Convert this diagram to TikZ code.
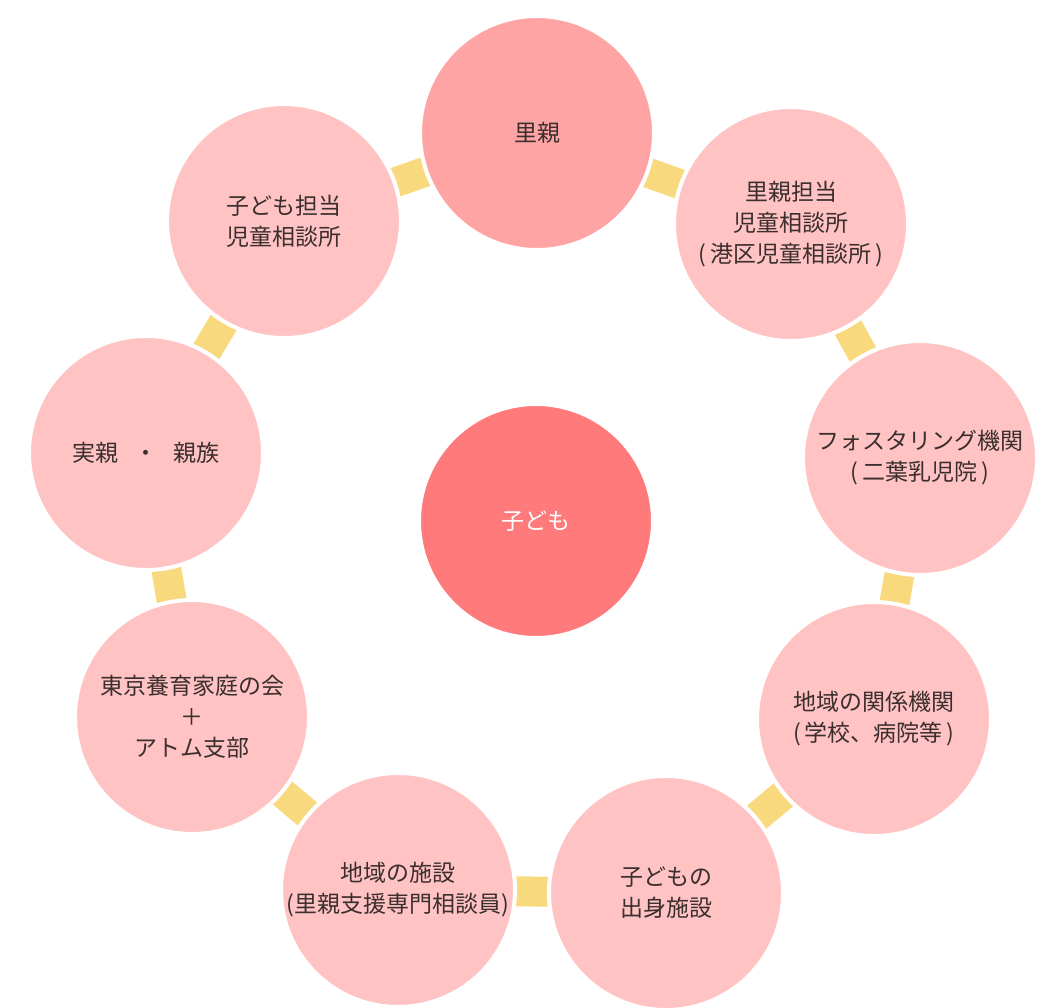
\documentclass[tikz,border=0pt]{standalone}
\usepackage{fontspec}
\setmainfont{Noto Sans CJK JP}
\usetikzlibrary{backgrounds}
\definecolor{ringpink}{HTML}{FFC3C3}
\definecolor{toppink}{HTML}{FFA4A4}
\definecolor{corepink}{HTML}{FF7B7B}
\definecolor{linkyellow}{HTML}{F9D97E}
\definecolor{ink}{HTML}{3A2E2E}
\begin{document}
\begin{tikzpicture}[x=1pt,y=-1pt,
  bub/.style={circle, fill=ringpink, draw=white, line width=4pt,
    minimum size=234pt, inner sep=0pt, align=center,
    font=\fontsize{23}{31}\selectfont, text=ink},
  linkband/.style={draw=linkyellow, line width=30pt}]
\useasboundingbox (0,0) rectangle (1046,1007);
\node[bub, fill=toppink] (satooya) at (537,133) {里親};
\node[bub] (satotanto) at (791,224) {里親担当\\児童相談所\\(\,港区児童相談所\,)};
\node[bub] (foster) at (920,458) {フォスタリング機関\\(\,二葉乳児院\,)};
\node[bub] (chiiki) at (874,719) {地域の関係機関\\(\,学校、病院等\,)};
\node[bub] (shusshin) at (666,893) {子どもの\\出身施設};
\node[bub] (shisetsu) at (398,890) {地域の施設\\(里親支援専門相談員)};
\node[bub] (tokyo) at (192,717) {東京養育家庭の会\\＋\\アトム支部};
\node[bub] (jitsuoya) at (146,453) {実親\hspace{0.7em}・\hspace{0.7em}親族};
\node[bub] (kotanto) at (284,221) {子ども担当\\児童相談所};
\node[bub, fill=corepink, text=white] (kodomo) at (536,521) {子ども};
\begin{scope}[on background layer]
\draw[linkband] (satooya.center) -- (satotanto.center);
\draw[linkband] (satotanto.center) -- (foster.center);
\draw[linkband] (foster.center) -- (chiiki.center);
\draw[linkband] (chiiki.center) -- (shusshin.center);
\draw[linkband] (shusshin.center) -- (shisetsu.center);
\draw[linkband] (shisetsu.center) -- (tokyo.center);
\draw[linkband] (tokyo.center) -- (jitsuoya.center);
\draw[linkband] (jitsuoya.center) -- (kotanto.center);
\draw[linkband] (kotanto.center) -- (satooya.center);
\end{scope}
\end{tikzpicture}
\end{document}
